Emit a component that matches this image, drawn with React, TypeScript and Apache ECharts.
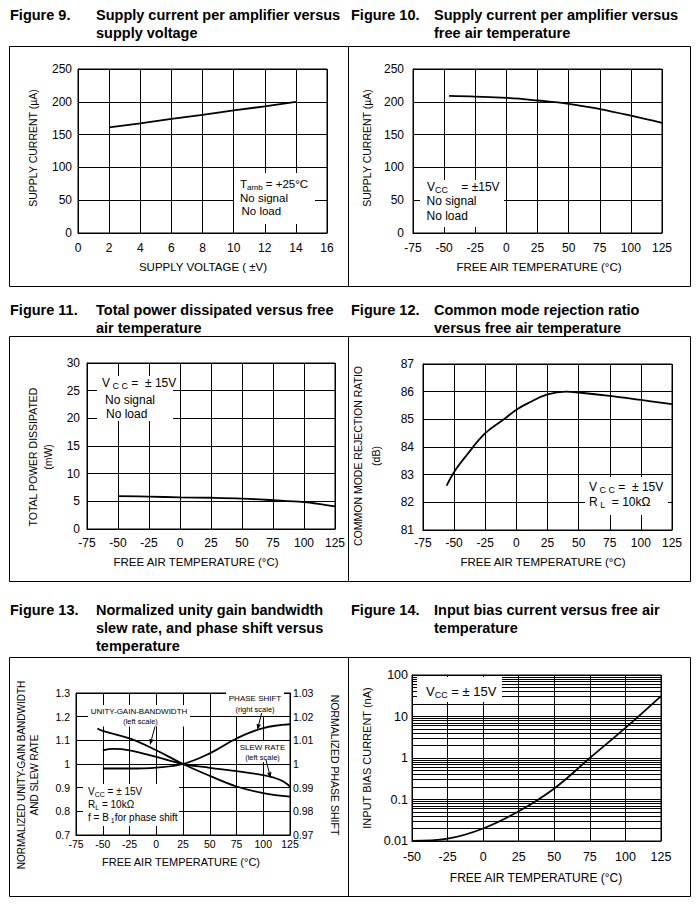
import React, { useEffect, useRef } from 'react';
import * as echarts from 'echarts';

const FONT = '"Liberation Sans", Arial, Helvetica, sans-serif';

// Figure 9
const fig9Voltage = [2, 4, 6, 8, 10, 12, 14];
const fig9Current = [161, 167, 174, 180, 187, 193, 200];
// Figure 10
const fig10Temp = [-46, -25, 0, 25, 50, 75, 100, 125];
const fig10Current = [209, 208, 206, 202, 197, 189, 179, 168];
// Figure 11
const fig11Temp = [-50, -25, 0, 25, 50, 75, 100, 110, 125];
const fig11Power = [5.95, 5.85, 5.72, 5.65, 5.5, 5.2, 4.85, 4.6, 4.1];
// Figure 12
const fig12Temp = [-56, -50, -40, -25, -10, 0, 10, 25, 40, 50, 75, 100, 125];
const fig12Cmrr = [82.6, 83.1, 83.7, 84.5, 85.0, 85.35, 85.6, 85.9, 86.0, 85.97, 85.85, 85.7, 85.55];
// Figure 13
const fig13UgbwTemp = [-55, -50, -25, 0, 25, 50, 75, 100, 125];
const fig13Ugbw = [1.15, 1.14, 1.108, 1.058, 1.0, 0.95, 0.905, 0.877, 0.862];
const fig13SlewTemp = [-50, -40, -25, 0, 25, 50, 75, 100, 110, 118, 125];
const fig13Slew = [1.058, 1.064, 1.058, 1.03, 1.0, 0.984, 0.97, 0.953, 0.942, 0.928, 0.905];
const fig13PhaseTemp = [-50, -25, 0, 25, 50, 75, 100, 125];
const fig13Phase = [0.9981, 0.9981, 0.9985, 1.0, 1.0045, 1.0108, 1.0152, 1.0168];
// Figure 14
const fig14Temp = [-50, -25, 0, 25, 50, 75, 100, 125];
const fig14Bias = [0.0101, 0.0114, 0.02, 0.052, 0.185, 1.0, 5.3, 31];
const fig14MinorGrid = [
  0.02, 0.03, 0.04, 0.05, 0.06, 0.07, 0.08, 0.09,
  0.2, 0.3, 0.4, 0.5, 0.6, 0.7, 0.8, 0.9,
  2, 3, 4, 5, 6, 7, 8, 9,
  20, 30, 40, 50, 60, 70, 80, 90,
];

const zip = (xs: number[], ys: number[]) => xs.map((x, i) => [x, ys[i]]);

function xAx(gridIndex: number, min: number, max: number, interval: number, margin: number, fontSize: number) {
  return {
    type: 'value', gridIndex, min, max, interval,
    axisLine: { show: true, onZero: false, lineStyle: { color: '#000', width: 1 } },
    axisTick: { show: false },
    axisLabel: { color: '#000', fontSize, fontFamily: FONT, margin, showMinLabel: true, showMaxLabel: true },
    splitLine: { show: true, lineStyle: { color: '#000', width: 1 } },
  };
}
function yAx(gridIndex: number, min: number, max: number, interval: number | undefined, margin: number, fontSize: number, extra: any = {}) {
  return {
    type: 'value', gridIndex, min, max, interval, position: 'left',
    axisLine: { show: true, onZero: false, lineStyle: { color: '#000', width: 1 } },
    axisTick: { show: false },
    axisLabel: { color: '#000', fontSize, fontFamily: FONT, margin, showMinLabel: true, showMaxLabel: true },
    splitLine: { show: true, lineStyle: { color: '#000', width: 1 } },
    ...extra,
  };
}
function line(xi: number, yi: number, data: number[][], smooth: boolean | number, extra: any = {}) {
  return {
    type: 'line', xAxisIndex: xi, yAxisIndex: yi, data, showSymbol: false, symbol: 'none', smooth,
    lineStyle: { color: '#000', width: 1.8 }, silent: true, z: 3, ...extra,
  };
}

function rich(size: number) {
  return {
    m: { fontSize: size, fontFamily: FONT, fill: '#000', lineHeight: size + 3, verticalAlign: 'middle' },
    s: { fontSize: Math.round(size * 0.72), fontFamily: FONT, fill: '#000', lineHeight: Math.round(size * 0.72), verticalAlign: 'bottom' },
  };
}
function txt(x: number, y: number, text: string, o: any = {}) {
  const size = o.size ?? 12;
  return {
    type: 'text', x, y, z: 10, silent: true, rotation: o.rotation ?? 0,
    style: {
      text, fill: '#000', fontSize: size, fontFamily: FONT,
      fontWeight: o.bold ? 'bold' : 'normal', align: o.align ?? 'left', verticalAlign: 'middle',
      lineHeight: o.lineHeight ?? size, rich: o.rich ? rich(size) : undefined,
    },
  };
}
function box(x: number, y: number, w: number, h: number) {
  return { type: 'rect', z: 9, silent: true, shape: { x, y, width: w, height: h }, style: { fill: '#fff' } };
}
function frame(x: number, y: number, w: number, h: number) {
  return { type: 'rect', z: 10, silent: true, shape: { x, y, width: w, height: h }, style: { fill: 'none', stroke: '#000', lineWidth: 1 } };
}
function vline(x: number, y1: number, y2: number) {
  return { type: 'line', z: 10, silent: true, shape: { x1: x, y1, x2: x, y2 }, style: { stroke: '#000', lineWidth: 1 } };
}
function arrow(x1: number, y1: number, x2: number, y2: number) {
  const a = Math.atan2(y2 - y1, x2 - x1);
  const len = 6, w = 2.2;
  const bx = x2 - len * Math.cos(a), by = y2 - len * Math.sin(a);
  const px = -Math.sin(a) * w, py = Math.cos(a) * w;
  return [
    { type: 'line', z: 10, silent: true, shape: { x1, y1, x2: bx, y2: by }, style: { stroke: '#000', lineWidth: 1 } },
    { type: 'polygon', z: 10, silent: true, shape: { points: [[x2, y2], [bx + px, by + py], [bx - px, by - py]] }, style: { fill: '#000' } },
  ];
}

const R90 = Math.PI / 2;

function buildOption(): any {
  const graphic: any[] = [
    // frames
    frame(9.5, 46.5, 681, 240), vline(348.5, 46.5, 286.5),
    frame(9.5, 336.5, 681, 245), vline(348.5, 336.5, 581.5),
    frame(9.5, 657.5, 681, 239), vline(348.5, 657.5, 896.5),
    // titles
    txt(10, 15, 'Figure 9.', { bold: true, size: 14.5 }),
    txt(96, 15, 'Supply current per amplifier versus', { bold: true, size: 14.5 }),
    txt(96, 33, 'supply voltage', { bold: true, size: 14.5 }),
    txt(351, 15, 'Figure 10.', { bold: true, size: 14.5 }),
    txt(434, 15, 'Supply current per amplifier versus', { bold: true, size: 14.5 }),
    txt(434, 33, 'free air temperature', { bold: true, size: 14.5 }),
    txt(10, 310, 'Figure 11.', { bold: true, size: 14.5 }),
    txt(96, 310, 'Total power dissipated versus free', { bold: true, size: 14.5 }),
    txt(96, 328, 'air temperature', { bold: true, size: 14.5 }),
    txt(351, 310, 'Figure 12.', { bold: true, size: 14.5 }),
    txt(434, 310, 'Common mode rejection ratio', { bold: true, size: 14.5 }),
    txt(434, 328, 'versus free air temperature', { bold: true, size: 14.5 }),
    txt(10, 610, 'Figure 13.', { bold: true, size: 14.5 }),
    txt(96, 610, 'Normalized unity gain bandwidth', { bold: true, size: 14.5 }),
    txt(96, 628, 'slew rate, and phase shift versus', { bold: true, size: 14.5 }),
    txt(96, 646, 'temperature', { bold: true, size: 14.5 }),
    txt(351, 610, 'Figure 14.', { bold: true, size: 14.5 }),
    txt(434, 610, 'Input bias current versus free air', { bold: true, size: 14.5 }),
    txt(434, 628, 'temperature', { bold: true, size: 14.5 }),

    // axis names
    txt(203, 267, 'SUPPLY VOLTAGE ( ±V)', { size: 11.5, align: 'center' }),
    txt(33, 148, 'SUPPLY CURRENT (µA)', { size: 10.5, align: 'center', rotation: R90 }),
    txt(539, 267, 'FREE AIR TEMPERATURE (°C)', { size: 11.5, align: 'center' }),
    txt(367, 148, 'SUPPLY CURRENT (µA)', { size: 10.5, align: 'center', rotation: R90 }),
    txt(196, 562, 'FREE AIR TEMPERATURE (°C)', { size: 11.5, align: 'center' }),
    txt(40, 457, 'TOTAL POWER DISSIPATED\n(mW)', { size: 10.5, align: 'center', rotation: R90, lineHeight: 15 }),
    txt(543, 562, 'FREE AIR TEMPERATURE (°C)', { size: 11.5, align: 'center' }),
    txt(367, 456, 'COMMON MODE REJECTION RATIO\n(dB)', { size: 10.5, align: 'center', rotation: R90, lineHeight: 18 }),
    txt(181, 862, 'FREE AIR TEMPERATURE (°C)', { size: 11, align: 'center' }),
    txt(28, 775, 'NORMALIZED UNITY-GAIN BANDWIDTH\nAND SLEW RATE', { size: 10, align: 'center', rotation: R90, lineHeight: 13 }),
    txt(335, 765, 'NORMALIZED PHASE SHIFT', { size: 10.5, align: 'center', rotation: -R90 }),
    txt(536, 878, 'FREE AIR TEMPERATURE (°C)', { size: 12, align: 'center' }),
    txt(367, 758, 'INPUT BIAS CURRENT (nA)', { size: 11, align: 'center', rotation: R90 }),

    // Figure 9 note
    box(234, 173, 81, 51),
    txt(240, 184, '{m|T}{s|amb}{m| = +25°C}', { rich: true, size: 11.5 }),
    txt(240, 197.5, 'No signal', { size: 11.5 }),
    txt(241.5, 210.5, 'No load', { size: 11.5 }),
    // Figure 10 note
    box(420, 180, 84, 47),
    txt(427, 187, '{m|V}{s|CC}{m|    = ±15V}', { rich: true, size: 12 }),
    txt(426.5, 201, 'No signal', { size: 12 }),
    txt(426.5, 216, 'No load', { size: 12 }),
    // Figure 11 note
    box(97, 376, 76, 45),
    txt(102, 383, '{m|V}{s| C C}{m| =  ± 15V}', { rich: true, size: 12 }),
    txt(105, 400, 'No signal', { size: 12 }),
    txt(106, 414, 'No load', { size: 12 }),
    // Figure 12 note
    box(585, 477, 83, 38),
    txt(589, 487, '{m|V}{s| C C}{m| =  ± 15V}', { rich: true, size: 12 }),
    txt(589, 502, '{m|R}{s| L}{m|  = 10kΩ}', { rich: true, size: 12 }),
    // Figure 13 notes
    box(88, 705, 102, 21.5),
    txt(139, 711, 'UNITY-GAIN-BANDWIDTH', { size: 8, align: 'center' }),
    txt(140.5, 721, '(left scale)', { size: 7.5, align: 'center' }),
    box(226, 691, 58, 25),
    txt(255, 698, 'PHASE SHIFT', { size: 8, align: 'center' }),
    txt(255, 709, '(right scale)', { size: 7.5, align: 'center' }),
    box(237, 741, 51, 21),
    txt(262.5, 747, 'SLEW RATE', { size: 8, align: 'center' }),
    txt(262.5, 757, '(left scale)', { size: 7.5, align: 'center' }),
    ...arrow(155, 726.5, 150, 745),
    ...arrow(261.7, 713, 257.3, 730),
    ...arrow(266, 760, 270.7, 778.3),
    box(83, 784, 96, 42),
    txt(88, 791, '{m|V}{s|CC}{m| = ± 15V}', { rich: true, size: 10 }),
    txt(88, 804, '{m|R}{s|L}{m| = 10kΩ}', { rich: true, size: 10 }),
    txt(88, 817, '{m|f = B}{s| 1}{m|for phase shift}', { rich: true, size: 10 }),
    // Figure 14 note
    box(417, 677, 85, 25),
    txt(426, 691.5, '{m|V}{s|CC}{m| = ± 15V}', { rich: true, size: 13 }),
  ];

  return {
    animation: false,
    backgroundColor: '#fff',
    grid: [
      { left: 78, top: 69, width: 249, height: 164, show: true, borderColor: '#000', borderWidth: 1 },
      { left: 413, top: 69, width: 249, height: 164, show: true, borderColor: '#000', borderWidth: 1 },
      { left: 87, top: 363, width: 248, height: 166, show: true, borderColor: '#000', borderWidth: 1 },
      { left: 423, top: 364, width: 249, height: 166, show: true, borderColor: '#000', borderWidth: 1 },
      { left: 76, top: 693, width: 214, height: 142, show: true, borderColor: '#000', borderWidth: 1 },
      { left: 412, top: 675, width: 249, height: 166, show: true, borderColor: '#000', borderWidth: 1 },
    ],
    xAxis: [
      xAx(0, 0, 16, 2, 9, 12),
      xAx(1, -75, 125, 25, 9, 12),
      xAx(2, -75, 125, 25, 8, 12),
      xAx(3, -75, 125, 25, 7, 12),
      xAx(4, -75, 125, 25, 3, 10.5),
      xAx(5, -50, 125, 25, 9, 12.5),
    ],
    yAxis: [
      yAx(0, 0, 250, 50, 6, 12),
      yAx(1, 0, 250, 50, 9, 12),
      yAx(2, 0, 30, 5, 7, 12),
      yAx(3, 81, 87, 1, 9, 12),
      yAx(4, 0.7, 1.3, 0.1, 6, 10.5),
      yAx(4, 0.97, 1.03, 0.01, 3, 10.5, { position: 'right', splitLine: { show: false } }),
      {
        type: 'log', logBase: 10, gridIndex: 5, min: 0.01, max: 100, position: 'left',
        axisLine: { show: true, onZero: false, lineStyle: { color: '#000', width: 1 } },
        axisTick: { show: false },
        axisLabel: { color: '#000', fontSize: 12.5, fontFamily: FONT, margin: 4, showMinLabel: true, showMaxLabel: true },
        splitLine: { show: true, lineStyle: { color: '#000', width: 1 } },
      },
    ],
    series: [
      line(0, 0, zip(fig9Voltage, fig9Current), false),
      line(1, 1, zip(fig10Temp, fig10Current), 0.4),
      line(2, 2, zip(fig11Temp, fig11Power), 0.4),
      line(3, 3, zip(fig12Temp, fig12Cmrr), 0.4),
      line(4, 4, zip(fig13UgbwTemp, fig13Ugbw), 0.4),
      line(4, 4, zip(fig13SlewTemp, fig13Slew), 0.4),
      line(4, 5, zip(fig13PhaseTemp, fig13Phase), 0.4),
      line(5, 6, zip(fig14Temp, fig14Bias), 0.4, {
        markLine: {
          silent: true, symbol: ['none', 'none'], label: { show: false },
          lineStyle: { color: '#000', width: 1, type: 'solid' },
          emphasis: { disabled: true },
          data: fig14MinorGrid.map((v) => ({ yAxis: v })),
        },
      }),
    ],
    graphic,
  };
}

export default function App() {
  const ref = useRef<HTMLDivElement>(null);
  useEffect(() => {
    const chart = echarts.init(ref.current as HTMLDivElement, null, { renderer: 'svg' });
    chart.setOption(buildOption());
    return () => chart.dispose();
  }, []);
  return (
    <div
      ref={ref}
      style={{ position: 'absolute', left: 0, top: 0, width: 698, height: 912, background: '#fff' }}
    />
  );
}
